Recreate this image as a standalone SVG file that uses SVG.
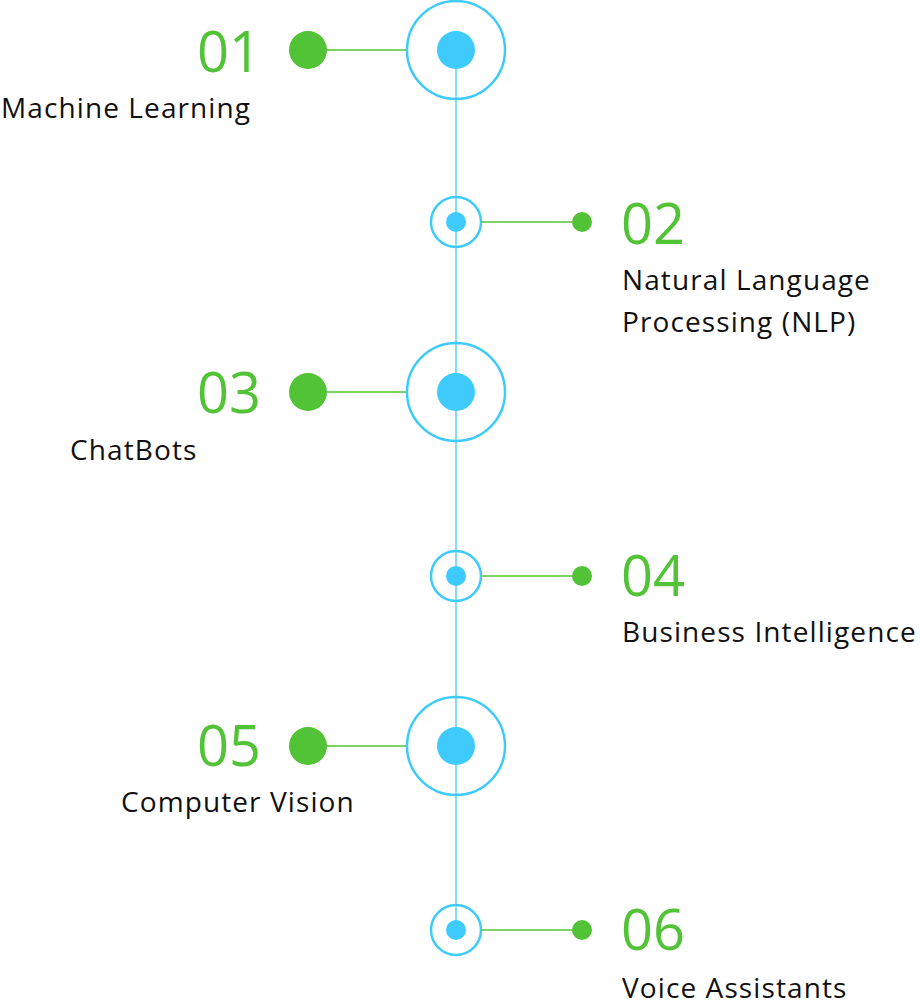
<svg xmlns="http://www.w3.org/2000/svg" width="920" height="1008" viewBox="0 0 920 1008">
<style>
.ring{fill:none;stroke:#3ecbfc;stroke-width:2.5}
.core{fill:#3ecbfc}
.gdot{fill:#52c236}
.glink{stroke:#52c236;stroke-width:1.3}
.num{font-family:"Open Sans","Noto Sans",sans-serif;font-size:56px;fill:#52c236}
.lbl{font-family:"Open Sans","Noto Sans",sans-serif;font-size:28px;letter-spacing:1.1px;fill:#111}
</style>
<rect width="920" height="1008" fill="#fff"/>
<g id="connectors">
<line x1="456" y1="50" x2="456" y2="930" stroke="#3ecbfc" stroke-width="1.3"/>
<line class="glink" x1="327" y1="50" x2="407" y2="50"/>
<line class="glink" x1="481" y1="222" x2="572" y2="222"/>
<line class="glink" x1="327" y1="392" x2="407" y2="392"/>
<line class="glink" x1="481" y1="576" x2="572" y2="576"/>
<line class="glink" x1="327" y1="746" x2="407" y2="746"/>
<line class="glink" x1="481" y1="930" x2="572" y2="930"/>
</g>
<g id="node1">
<circle class="ring" cx="456" cy="50" r="49"/>
<circle class="core" cx="456" cy="50" r="19"/>
<circle class="gdot" cx="308" cy="50" r="19"/>
<text class="num" x="261" y="72" text-anchor="end">01</text>
<text class="lbl" x="1" y="118">Machine Learning</text>
</g>
<g id="node2">
<circle class="ring" cx="456" cy="222" r="25"/>
<circle class="core" cx="456" cy="222" r="10"/>
<circle class="gdot" cx="582" cy="222" r="10"/>
<text class="num" x="621" y="244">02</text>
<text class="lbl" x="622" y="290">Natural Language</text>
<text class="lbl" x="622" y="332">Processing (NLP)</text>
</g>
<g id="node3">
<circle class="ring" cx="456" cy="392" r="49"/>
<circle class="core" cx="456" cy="392" r="19"/>
<circle class="gdot" cx="308" cy="392" r="19"/>
<text class="num" x="261" y="413" text-anchor="end">03</text>
<text class="lbl" x="70" y="460">ChatBots</text>
</g>
<g id="node4">
<circle class="ring" cx="456" cy="576" r="25"/>
<circle class="core" cx="456" cy="576" r="10"/>
<circle class="gdot" cx="582" cy="576" r="10"/>
<text class="num" x="621" y="596">04</text>
<text class="lbl" x="622" y="642">Business Intelligence</text>
</g>
<g id="node5">
<circle class="ring" cx="456" cy="746" r="49"/>
<circle class="core" cx="456" cy="746" r="19"/>
<circle class="gdot" cx="308" cy="746" r="19"/>
<text class="num" x="261" y="766" text-anchor="end">05</text>
<text class="lbl" x="121" y="812">Computer Vision</text>
</g>
<g id="node6">
<circle class="ring" cx="456" cy="930" r="25"/>
<circle class="core" cx="456" cy="930" r="10"/>
<circle class="gdot" cx="582" cy="930" r="10"/>
<text class="num" x="621" y="950">06</text>
<text class="lbl" x="622" y="998">Voice Assistants</text>
</g>
</svg>
